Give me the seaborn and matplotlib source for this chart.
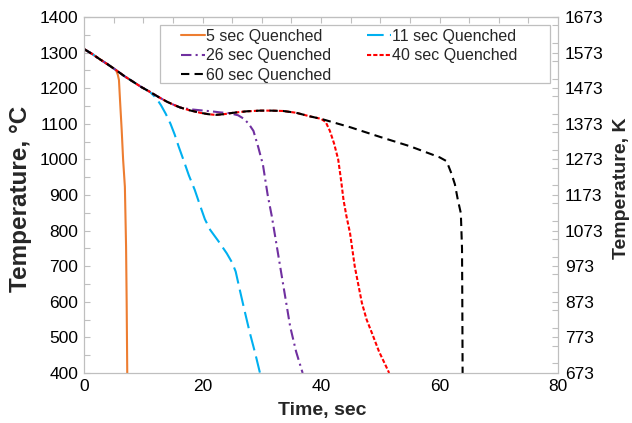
import numpy as np
import pandas as pd
import matplotlib
matplotlib.use("Agg")
import matplotlib.pyplot as plt
import matplotlib.patches as mpatches
from matplotlib.ticker import MultipleLocator
import seaborn as sns

# ---------------- data ----------------
# shared cooling curve before quenching
t_common = [0, 1.3, 2.7, 4.0, 5.4, 6.8, 8.3, 9.7, 11.1, 12.5, 14.0, 15.2, 16.2,
            17.8, 19.6, 21.0, 22.2, 23.6, 25.2, 27.4, 29.7, 31.6, 33.6, 35.8,
            38.1, 40.0]
T_common = [1310, 1297, 1281, 1267, 1251, 1234, 1218, 1203, 1190, 1176, 1162,
            1153, 1146, 1138, 1131, 1127, 1125, 1127, 1131, 1135, 1137, 1137,
            1136, 1131, 1121, 1114]

# 5 sec quenched (after common part up to 5.4 s)
t_q5 = [5.7, 5.9, 6.1, 6.36, 6.6, 6.9, 7.1, 7.2, 7.3]
T_q5 = [1238, 1223, 1160, 1083, 1000, 923, 755, 600, 400]

# 11 sec quenched (after common part up to 11.1 s)
t_q11 = [12.2, 13.0, 13.8, 14.6, 15.3, 16.0, 16.8, 17.7, 18.7, 19.6, 20.4,
         21.3, 22.7, 24.1, 25.0, 25.6, 26.3, 27.1, 28.0, 28.9, 29.7]
T_q11 = [1172, 1152, 1128, 1100, 1070, 1035, 998, 955, 914, 870, 832, 802,
         770, 736, 710, 685, 633, 575, 512, 455, 400]

# 26 sec quenched (after common part up to 16.2 s)
t_q26 = [17.8, 19.6, 21.5, 23.0, 24.5, 26.0, 27.0, 27.8, 28.6, 29.4, 30.2,
         31.0, 31.7, 32.4, 33.1, 34.0, 34.8, 35.8, 36.9]
T_q26 = [1141, 1138, 1135, 1132, 1130, 1124, 1114, 1100, 1080, 1035, 985,
         900, 840, 770, 700, 610, 530, 460, 400]

# 40 sec quenched (after common part up to 40 s)
t_q40 = [40.8, 41.5, 42.2, 42.9, 43.4, 43.8, 44.3, 44.9, 45.7, 46.9, 47.7,
         48.6, 49.8, 51.0, 51.5]
T_q40 = [1105, 1080, 1045, 1000, 940, 886, 840, 793, 699, 597, 550, 512,
         460, 418, 400]

# 60 sec quenched (after common part up to 40 s)
t_q60 = [45.0, 50.0, 55.0, 60.0, 61.2, 62.0, 62.6, 63.1, 63.6, 63.8, 63.85, 63.9]
T_q60 = [1090, 1063, 1037, 1006, 995, 961, 930, 886, 849, 750, 600, 400]

labels = ["5 sec Quenched", "11 sec Quenched", "26 sec Quenched",
          "40 sec Quenched", "60 sec Quenched"]
colors = ["#ED7D31", "#00B0F0", "#7030A0", "#FF0000", "#000000"]
x_ticks = [0, 20, 40, 60, 80]
y_ticks_c = [400, 500, 600, 700, 800, 900, 1000, 1100, 1200, 1300, 1400]
y_ticks_k = [673, 773, 873, 973, 1073, 1173, 1273, 1373, 1473, 1573, 1673]


def build(common_end, t_tail, T_tail):
    idx = t_common.index(common_end)
    return pd.DataFrame({"t": t_common[:idx + 1] + t_tail,
                         "T": T_common[:idx + 1] + T_tail})


series = {
    labels[0]: build(5.4, t_q5, T_q5),
    labels[1]: build(11.1, t_q11, T_q11),
    labels[2]: build(16.2, t_q26, T_q26),
    labels[3]: build(40.0, t_q40, T_q40),
    labels[4]: build(40.0, t_q60, T_q60),
}
styles = {
    labels[0]: "-",
    labels[1]: (0, (8, 3)),
    labels[2]: (0, (5, 2, 1, 2)),
    labels[3]: (0, (2, 1)),
    labels[4]: (0, (4, 2.5)),
}

# ---------------- figure ----------------
sns.set_style("white")
plt.rcParams["font.family"] = ["Liberation Sans", "DejaVu Sans"]

W, H = 632, 423
fig = plt.figure(figsize=(W / 100, H / 100), dpi=100)
ax = fig.add_axes([84 / W, 1 - 373 / H, 474 / W, 356 / H])

grey = "#BFBFBF"
handles = {}
for lab, col in zip(labels, colors):
    d = series[lab]
    sns.lineplot(data=d, x="t", y="T", ax=ax, color=col, linewidth=1.5,
                 linestyle=styles[lab], sort=False, estimator=None,
                 errorbar=None, label=lab, legend=False)
    handles[lab] = ax.lines[-1]

ax.set_xlim(0, 80)
ax.set_ylim(400, 1400)
ax.set_xticks(x_ticks)
ax.set_yticks(y_ticks_c)
ax.xaxis.set_minor_locator(MultipleLocator(4))
ax.yaxis.set_minor_locator(MultipleLocator(50))
ax.tick_params(axis="both", which="both", direction="in", colors=grey,
               length=4, width=0.8, labelcolor="black", labelsize=12.5)
ax.tick_params(axis="y", which="both", right=False, pad=4.3)
ax.tick_params(axis="x", which="both", top=False, pad=4.5)
for s in ax.spines.values():
    s.set_color(grey)
    s.set_linewidth(0.8)
    s.set_visible(True)

# top axis ticks every 5 s
secx = ax.secondary_xaxis("top")
secx.set_xticks(np.arange(5, 80, 5))
secx.set_xticklabels([])
secx.tick_params(direction="in", length=4, width=0.8, colors=grey)
secx.spines["top"].set_color(grey)
secx.spines["top"].set_linewidth(0.8)

# right axis in Kelvin
ax2 = ax.twinx()
ax2.set_ylim(673, 1673)
ax2.set_yticks(y_ticks_k)
ax2.yaxis.set_minor_locator(MultipleLocator(50))
ax2.tick_params(axis="y", which="both", direction="in", colors=grey,
                length=4, width=0.8, labelcolor="black", labelsize=12.5,
                pad=5)
for s in ax2.spines.values():
    s.set_color(grey)
    s.set_linewidth(0.8)

ax.set_xlabel("Time, sec", fontsize=14, fontweight="bold")
ax.xaxis.set_label_coords(0.502, -0.104)
ax.xaxis.label.set_va("center")
ax.set_ylabel("Temperature, °C", fontsize=17.5, fontweight="bold")
ax.yaxis.set_label_coords(-0.135, 0.49)
ax.yaxis.label.set_va("center")
ax2.set_ylabel("Temperature, K", fontsize=14, fontweight="bold", rotation=90)
ax2.yaxis.set_label_coords(1.135, 0.52)
ax2.yaxis.label.set_va("center")

# legend
order = [labels[0], labels[2], labels[4], labels[1], labels[3]]
leg = ax2.legend([handles[l] for l in order], order, ncol=2, fontsize=11.5,
                 frameon=False, loc="upper left",
                 bbox_to_anchor=(0.204, 0.967), borderpad=0, borderaxespad=0,
                 handlelength=1.5, handletextpad=0.1, columnspacing=2.2,
                 labelspacing=0.28)
frame = mpatches.Rectangle((0.160, 0.814), 0.823, 0.1635,
                           transform=ax2.transAxes, facecolor="white",
                           edgecolor=grey, linewidth=0.9, zorder=4)
ax2.add_patch(frame)
leg.set_zorder(6)

fig.savefig("out.png", dpi=100)
